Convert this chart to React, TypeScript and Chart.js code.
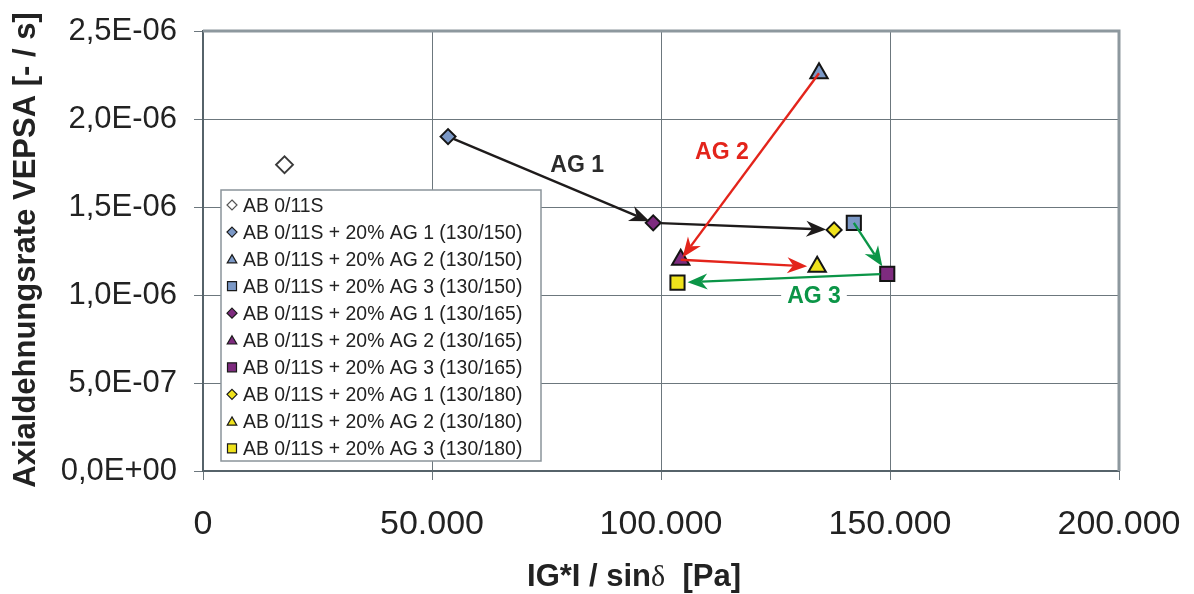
import React, { useEffect, useRef } from 'react';
import { Chart, registerables } from 'chart.js';

Chart.register(...registerables);

// ---- data ----
const seriesNames = [
  'AB 0/11S',
  'AB 0/11S + 20% AG 1 (130/150)',
  'AB 0/11S + 20% AG 2 (130/150)',
  'AB 0/11S + 20% AG 3 (130/150)',
  'AB 0/11S + 20% AG 1 (130/165)',
  'AB 0/11S + 20% AG 2 (130/165)',
  'AB 0/11S + 20% AG 3 (130/165)',
  'AB 0/11S + 20% AG 1 (130/180)',
  'AB 0/11S + 20% AG 2 (130/180)',
  'AB 0/11S + 20% AG 3 (130/180)',
];
const seriesX = [17800, 53500, 134500, 142100, 98300, 104300, 149400, 137800, 134100, 103600];
const seriesY = [1.74e-6, 1.9e-6, 2.26e-6, 1.41e-6, 1.41e-6, 1.2e-6, 1.12e-6, 1.37e-6, 1.16e-6, 1.07e-6];

const xTickValues = [0, 50000, 100000, 150000, 200000];
const yTickValues = [0, 5e-7, 1e-6, 1.5e-6, 2e-6, 2.5e-6];

// aggregate groups: series indices linked by arrows (130/150 -> 130/165 -> 130/180)
const groupNames = ['AG 1', 'AG 2', 'AG 3'];
const groupMembers = [
  [1, 4, 7],
  [2, 5, 8],
  [3, 6, 9],
];
const groupLabelX = [81700, 113300, 133400];
const groupLabelY = [1.745e-6, 1.82e-6, 1.0e-6];

// ---- styles ----
const SANS = '"Liberation Sans", Arial, Helvetica, sans-serif';
const TEXT = '#222222';
const BLUE = '#7b98c6';
const PURPLE = '#7e2b7f';
const YELLOW = '#efe21c';
const seriesShape = ['rectRot', 'rectRot', 'triangle', 'rect', 'rectRot', 'triangle', 'rect', 'rectRot', 'triangle', 'rect'];
const seriesFill = ['#ffffff', BLUE, BLUE, BLUE, PURPLE, PURPLE, PURPLE, YELLOW, YELLOW, YELLOW];
const groupColors = ['#1e1b1b', '#e3241b', '#0b9547'];
const groupLabelColors = ['#2b2b2b', '#e3241b', '#0b9547'];
// gap (px) left free at start / end of each arrow segment
const arrowGaps = [
  [[6, 4], [7, 8]],
  [[0, 3], [0, 10]],
  [[0, 9], [7, 10]],
];

const radiusFor = (i: number) => {
  if (i === 0) return 8.5;
  return seriesShape[i] === 'rectRot' ? 7.5 : 10;
};

const fmtX = (v: number) => String(Math.round(v)).replace(/\B(?=(\d{3})+(?!\d))/g, '.');
const fmtY = (v: number) => {
  if (Math.abs(v) < 1e-20) return '0,0E+00';
  const e = Math.floor(Math.log10(Math.abs(v)) + 1e-9);
  const m = v / Math.pow(10, e);
  return m.toFixed(1).replace('.', ',') + 'E' + (e < 0 ? '-' : '+') + String(Math.abs(e)).padStart(2, '0');
};

function markerPath(ctx: CanvasRenderingContext2D, shape: string, x: number, y: number, r: number) {
  ctx.beginPath();
  if (shape === 'rectRot') {
    ctx.moveTo(x, y - r);
    ctx.lineTo(x + r, y);
    ctx.lineTo(x, y + r);
    ctx.lineTo(x - r, y);
  } else if (shape === 'triangle') {
    ctx.moveTo(x, y - r);
    ctx.lineTo(x + r * 0.866, y + r * 0.5);
    ctx.lineTo(x - r * 0.866, y + r * 0.5);
  } else {
    const h = r * 0.75;
    ctx.rect(x - h, y - h, 2 * h, 2 * h);
  }
  ctx.closePath();
}

function drawArrow(
  ctx: CanvasRenderingContext2D,
  x1: number, y1: number, x2: number, y2: number,
  color: string, g0: number, g1: number,
) {
  const a = Math.atan2(y2 - y1, x2 - x1);
  const c = Math.cos(a);
  const s = Math.sin(a);
  const sx = x1 + c * g0;
  const sy = y1 + s * g0;
  const ex = x2 - c * g1;
  const ey = y2 - s * g1;
  const len = 20;
  const half = 8;
  const notch = 6;
  ctx.save();
  ctx.strokeStyle = color;
  ctx.fillStyle = color;
  ctx.lineWidth = 2.4;
  ctx.beginPath();
  ctx.moveTo(sx, sy);
  ctx.lineTo(ex - c * (len - notch), ey - s * (len - notch));
  ctx.stroke();
  const bx = ex - c * len;
  const by = ey - s * len;
  ctx.beginPath();
  ctx.moveTo(ex, ey);
  ctx.lineTo(bx - s * half, by + c * half);
  ctx.lineTo(ex - c * (len - notch), ey - s * (len - notch));
  ctx.lineTo(bx + s * half, by - c * half);
  ctx.closePath();
  ctx.fill();
  ctx.restore();
}

const overlay = {
  id: 'overlay',
  beforeDatasetsDraw(chart: any) {
    const { ctx, scales } = chart;
    ctx.save();
    ctx.font = `bold 23px ${SANS}`;
    ctx.textAlign = 'center';
    ctx.textBaseline = 'alphabetic';
    groupNames.forEach((name, g) => {
      const cx = scales.x.getPixelForValue(groupLabelX[g]);
      const cy = scales.y.getPixelForValue(groupLabelY[g]);
      const w = ctx.measureText(name).width;
      ctx.fillStyle = '#ffffff';
      ctx.fillRect(cx - w / 2 - 6, cy - 10, w + 12, 20);
      ctx.fillStyle = groupLabelColors[g];
      ctx.fillText(name, cx, cy + 8.2);
    });
    ctx.restore();
  },
  afterDatasetsDraw(chart: any) {
    const { ctx, scales } = chart;
    groupMembers.forEach((members, g) => {
      for (let k = 0; k < members.length - 1; k++) {
        const a = members[k];
        const b = members[k + 1];
        drawArrow(
          ctx,
          scales.x.getPixelForValue(seriesX[a]), scales.y.getPixelForValue(seriesY[a]),
          scales.x.getPixelForValue(seriesX[b]), scales.y.getPixelForValue(seriesY[b]),
          groupColors[g], arrowGaps[g][k][0], arrowGaps[g][k][1],
        );
      }
    });
  },
  afterDraw(chart: any) {
    const { ctx, chartArea } = chart;
    ctx.save();
    // top and right frame of the plot area
    ctx.strokeStyle = '#8d989e';
    ctx.lineWidth = 3;
    ctx.beginPath();
    ctx.moveTo(chartArea.left, chartArea.top);
    ctx.lineTo(chartArea.right, chartArea.top);
    ctx.lineTo(chartArea.right, chartArea.bottom);
    ctx.stroke();

    // legend box
    const lx = chartArea.left + 18;
    const ly = chartArea.top + 159;
    const lw = 320;
    const lh = 271;
    ctx.fillStyle = '#ffffff';
    ctx.fillRect(lx, ly, lw, lh);
    ctx.strokeStyle = '#8b949a';
    ctx.lineWidth = 1.5;
    ctx.strokeRect(lx, ly, lw, lh);
    ctx.font = `19.4px ${SANS}`;
    ctx.textAlign = 'left';
    ctx.textBaseline = 'alphabetic';
    seriesNames.forEach((name, i) => {
      const cy = ly + 15 + i * 27.05;
      const shape = seriesShape[i];
      const r = shape === 'rectRot' ? 5 : shape === 'triangle' ? 5.5 : 6;
      markerPath(ctx, shape, lx + 11, shape === 'triangle' ? cy + 1 : cy, r);
      ctx.fillStyle = seriesFill[i];
      ctx.fill();
      ctx.strokeStyle = i === 0 ? '#555555' : '#1a1a1a';
      ctx.lineWidth = 1.2;
      ctx.stroke();
      ctx.fillStyle = TEXT;
      ctx.fillText(name, lx + 22, cy + 6.9);
    });

    // axis titles
    ctx.fillStyle = TEXT;
    const partA = 'IG*I / sin';
    const partB = '\u03b4';
    const partC = '  [Pa]';
    const boldFont = `bold 31px ${SANS}`;
    const greekFont = `30px "Liberation Serif", "DejaVu Serif", serif`;
    ctx.font = boldFont;
    const wA = ctx.measureText(partA).width;
    const wC = ctx.measureText(partC).width;
    ctx.font = greekFont;
    const wB = ctx.measureText(partB).width;
    let x0 = 634 - (wA + wB + wC) / 2;
    const by = 586;
    ctx.font = boldFont;
    ctx.fillText(partA, x0, by);
    x0 += wA;
    ctx.font = greekFont;
    ctx.fillText(partB, x0, by);
    x0 += wB;
    ctx.font = boldFont;
    ctx.fillText(partC, x0, by);

    ctx.translate(35, 250);
    ctx.rotate(-Math.PI / 2);
    ctx.textAlign = 'center';
    ctx.font = boldFont;
    ctx.fillText('Axialdehnungsrate VEPSA [- / s]', 0, 0);
    ctx.restore();
  },
};

export default function App() {
  const ref = useRef<HTMLCanvasElement>(null);

  useEffect(() => {
    if (!ref.current) return;
    const chart = new Chart(ref.current, {
      type: 'scatter',
      data: {
        datasets: seriesNames.map((name, i) => ({
          label: name,
          data: [{ x: seriesX[i], y: seriesY[i] }],
          pointStyle: seriesShape[i] as any,
          pointRadius: radiusFor(i),
          pointHoverRadius: radiusFor(i),
          pointBackgroundColor: seriesFill[i],
          pointBorderColor: i === 0 ? '#3a3a3a' : '#141414',
          pointBorderWidth: i === 0 ? 1.8 : 2,
          backgroundColor: seriesFill[i],
          borderColor: i === 0 ? '#3a3a3a' : '#141414',
          showLine: false,
        })),
      },
      options: {
        animation: false,
        responsive: false,
        devicePixelRatio: 1,
        layout: { padding: { left: 0, top: 31, right: 75, bottom: 0 } },
        plugins: { legend: { display: false }, tooltip: { enabled: false } },
        scales: {
          x: {
            type: 'linear',
            min: 0,
            max: 200000,
            afterBuildTicks: (s: any) => {
              s.ticks = xTickValues.map((v) => ({ value: v }));
            },
            afterFit: (s: any) => {
              s.height = 123;
              s.paddingLeft = 0;
              s.paddingRight = 0;
              s.paddingTop = 0;
              s.paddingBottom = 0;
            },
            ticks: {
              callback: (v: any) => fmtX(Number(v)),
              font: { family: SANS, size: 34 },
              color: TEXT,
              padding: 24,
              maxRotation: 0,
            },
            grid: { color: '#6c777d', lineWidth: 1, tickLength: 9, tickColor: '#6c777d' },
            border: { color: '#56636a', width: 2 },
          },
          y: {
            type: 'linear',
            min: 0,
            max: 2.5e-6,
            afterBuildTicks: (s: any) => {
              s.ticks = yTickValues.map((v) => ({ value: v }));
            },
            afterFit: (s: any) => {
              s.width = 203;
              s.paddingLeft = 0;
              s.paddingRight = 0;
              s.paddingTop = 0;
              s.paddingBottom = 0;
            },
            ticks: {
              callback: (v: any) => fmtY(Number(v)),
              font: { family: SANS, size: 31 },
              color: TEXT,
              padding: 17,
            },
            grid: { color: '#6c777d', lineWidth: 1, tickLength: 9, tickColor: '#6c777d' },
            border: { color: '#56636a', width: 2 },
          },
        },
      },
      plugins: [overlay],
    });
    return () => chart.destroy();
  }, []);

  return (
    <div style={{ position: 'fixed', left: 0, top: 0, width: 1194, height: 594, background: '#ffffff' }}>
      <canvas ref={ref} width={1194} height={594} style={{ display: 'block' }} />
    </div>
  );
}
